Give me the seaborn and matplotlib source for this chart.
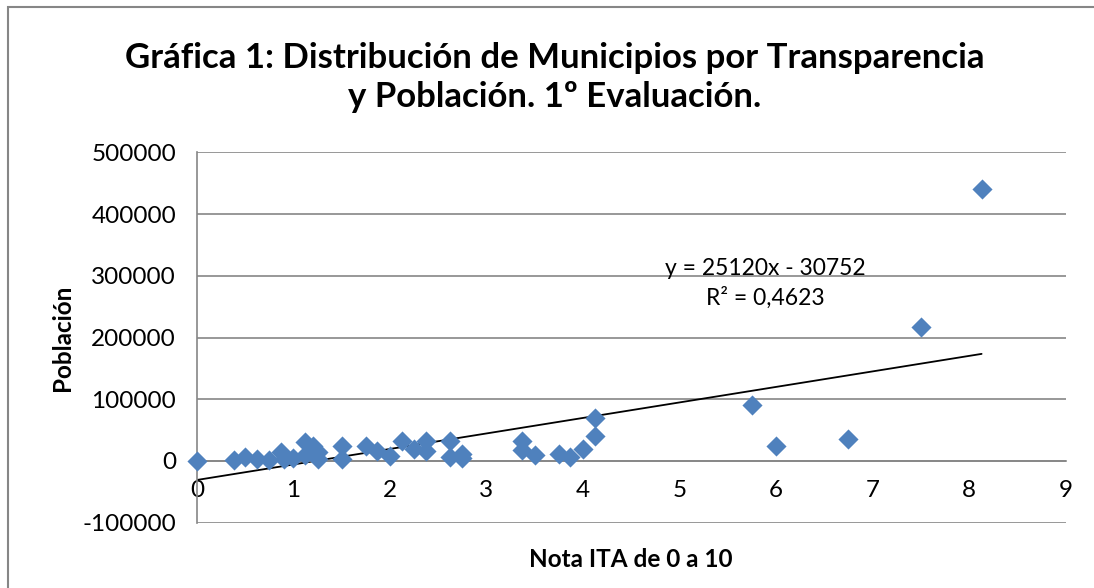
import numpy as np
import pandas as pd
import matplotlib
matplotlib.use("Agg")
import matplotlib.pyplot as plt
from matplotlib.patches import Rectangle
import seaborn as sns

# Datos (nota ITA, poblacion)
nota = [0.0, 0.38, 0.5, 0.62, 0.75, 0.87, 0.9, 1.0, 1.12, 1.12, 1.2, 1.25, 1.25,
        1.5, 1.5, 1.75, 1.87, 2.0, 2.12, 2.25, 2.37, 2.37, 2.62, 2.62, 2.75, 2.75,
        3.37, 3.37, 3.5, 3.75, 3.87, 4.0, 4.12, 4.12, 5.75, 6.0, 6.75, 7.5, 8.13]
poblacion = [0, 1000, 6000, 3000, 2000, 15000, 3000, 5000, 30000, 10000, 25000, 15000, 3000,
             25000, 4000, 25000, 16000, 8000, 33000, 20000, 33000, 16000, 33000, 6000, 11000, 5000,
             32000, 18000, 10000, 12000, 6000, 20000, 40000, 70000, 91000, 24000, 35000, 217000, 440000]

# Linea de tendencia (Excel)
pendiente = 25120
ordenada = -30752
ecuacion = "y = 25120x - 30752"
r2_texto = "R² = 0,4623"

titulo = "Gráfica 1: Distribución de Municipios por Transparencia\ny Población. 1º Evaluación."
x_ticks = list(range(0, 10))
y_ticks = list(range(-100000, 500001, 100000))

df = pd.DataFrame({"nota": nota, "poblacion": poblacion})

sns.set_style("white")
plt.rcParams["font.family"] = ["Lato", "DejaVu Sans"]
plt.rcParams["axes.unicode_minus"] = False
plt.rcParams["text.color"] = "black"
plt.rcParams["axes.labelcolor"] = "black"

fig = plt.figure(figsize=(10.94, 5.88), dpi=100)
ax = fig.add_axes([0.180, 0.111, 0.794, 0.630])

gris = "#868686"
azul = "#4F81BD"

sns.scatterplot(data=df, x="nota", y="poblacion", marker="D", s=105,
                color=azul, edgecolor=azul, linewidth=0, ax=ax, clip_on=False, zorder=3)

xs = np.array([df["nota"].min(), df["nota"].max()])
ax.plot(xs, pendiente * xs + ordenada, color="black", lw=1.3, zorder=2)

ax.set_xlim(0, 9)
ax.set_ylim(-100000, 500000)
ax.set_xticks(x_ticks)
ax.set_yticks(y_ticks)
ax.set_yticklabels([str(v) for v in y_ticks])
ax.set_xticklabels([str(v) for v in x_ticks])

ax.grid(axis="y", color=gris, lw=1.2)
ax.grid(axis="x", visible=False)
for s in ["top", "right"]:
    ax.spines[s].set_visible(False)
ax.spines["bottom"].set_position(("data", 0))
ax.spines["bottom"].set_color(gris)
ax.spines["left"].set_color(gris)
ax.spines["bottom"].set_linewidth(1.2)
ax.spines["left"].set_linewidth(1.2)
ax.tick_params(axis="both", direction="out", length=7, width=1.2, color=gris,
               labelsize=17.5, labelcolor="black")
ax.tick_params(axis="x", pad=7)
ax.tick_params(axis="y", pad=8)

ax.set_xlabel("Nota ITA de 0 a 10", fontsize=17.5, fontweight="bold", labelpad=0)
ax.xaxis.set_label_coords(0.5, -0.067)
ax.set_ylabel("Población", fontsize=17.5, fontweight="bold")
ax.yaxis.set_label_coords(-0.142, 0.5)

ax.text(5.89, 312000, ecuacion, fontsize=16.5, ha="center", va="center")
ax.text(5.89, 263600, r2_texto, fontsize=16.5, ha="center", va="center")

fig.text(0.507, 0.868, titulo, fontsize=25, fontweight="bold", ha="center", va="center",
         linespacing=1.25)

fig.patches.append(Rectangle((0.0075, -0.05), 1.1, 1.038, transform=fig.transFigure,
                             fill=False, edgecolor=gris, lw=1.5))

fig.savefig("out.png", dpi=100)
